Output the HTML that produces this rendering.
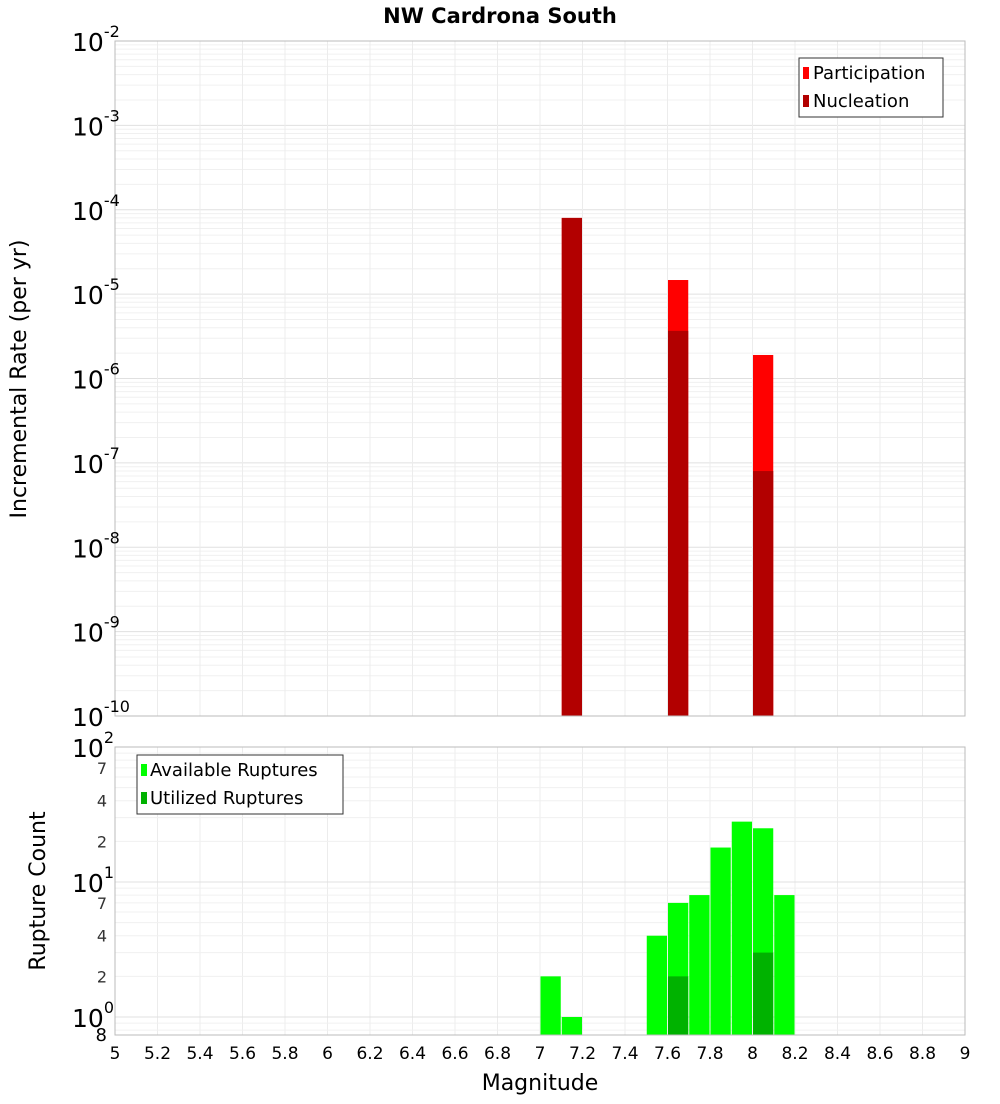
<!DOCTYPE html>
<html><head><meta charset="utf-8"><style>
body{margin:0;background:#fff;font-family:"DejaVu Sans","Liberation Sans",sans-serif}
svg text{font-family:"DejaVu Sans","Liberation Sans",sans-serif}
</style></head><body>
<svg id="chart" width="1000" height="1100" xmlns="http://www.w3.org/2000/svg">
<text x="500" y="23" text-anchor="middle" font-size="21" font-weight="bold">NW Cardrona South</text>
<g id="top"></g><g id="bot"></g>
</svg>
<script>
const topBins=[7.15,7.65,8.05];
const participation=[8e-5,1.47e-5,1.9e-6];
const nucleation=[8e-5,3.67e-6,8e-8];
const botBins=[7.05,7.15,7.55,7.65,7.75,7.85,7.95,8.05,8.15];
const available=[2,1,4,7,8,18,28,25,8];
const utilizedBins=[7.65,8.05];
const utilized=[2,3];
const xTicks=["5","5.2","5.4","5.6","5.8","6","6.2","6.4","6.6","6.8","7","7.2","7.4","7.6","7.8","8","8.2","8.4","8.6","8.8","9"];
const topExps=[-2,-3,-4,-5,-6,-7,-8,-9,-10];
const botMinor=[2,4,7];

const NS="http://www.w3.org/2000/svg";
function el(p,t,a,txt){const e=document.createElementNS(NS,t);for(const k in a)e.setAttribute(k,a[k]);if(txt!==undefined)e.textContent=txt;p.appendChild(e);return e;}
const L=115,R=965;
const X=m=>L+(m-5)/4*(R-L);
const tT=41,tB=716;
const yT=v=>tT+(-2-Math.log10(v))/8*(tB-tT);
const bT=747,bB=1035,dec=135,b0=bT+2*dec;
const yB=v=>b0-Math.log10(v)*dec;
const bw=(X(5.1)-X(5))-1;
const gt=document.getElementById('top'),gb=document.getElementById('bot');
const svg=document.getElementById('chart');

// top grid
for(let e=-10;e<-2;e++){for(let k=1;k<10;k++){const y=yT(k*Math.pow(10,e));const l=el(gt,'line',{x1:L,x2:R,y1:y,y2:y,stroke:k==1?'#e0e0e0':'#f0f0f0','stroke-width':1});}}
xTicks.forEach(t=>{const x=X(+t);const l=el(gt,'line',{x1:x,x2:x,y1:tT,y2:tB,stroke:'#ececec'});
const l2=el(gb,'line',{x1:x,x2:x,y1:bT,y2:bB,stroke:'#ececec'});
const tx=el(svg,'text',{x:x,y:1059,'text-anchor':'middle','font-size':17},t);});
// top bars
topBins.forEach((m,i)=>{const x=X(m)-bw/2;
const a=el(gt,'rect',{x:x,y:yT(participation[i]),width:bw,height:tB-yT(participation[i]),fill:'#ff0000'});
const b=el(gt,'rect',{x:x,y:yT(nucleation[i]),width:bw,height:tB-yT(nucleation[i]),fill:'#b20000'});});
el(gt,'rect',{x:L,y:tT,width:R-L,height:tB-tT,fill:'none',stroke:'#bbb'});
topExps.forEach(e=>{const y=yT(Math.pow(10,e));const g=el(gt,'text',{x:72,y:y+10,'font-size':25});
el(g,'tspan',{},'10');el(g,'tspan',{dy:-14,'font-size':16},String(e));});
// top legend
const lg=el(gt,'g',{});
el(lg,'rect',{x:799,y:58,width:144,height:59,fill:'#fff',stroke:'#333'});
el(lg,'rect',{x:803,y:67,width:6,height:12,fill:'#ff0000'});el(lg,'text',{x:813,y:79,'font-size':18},'Participation');
el(lg,'rect',{x:803,y:95,width:6,height:12,fill:'#b20000'});el(lg,'text',{x:813,y:107,'font-size':18},'Nucleation');
// bottom grid
for(let e=-1;e<2;e++){for(let k=1;k<10;k++){const v=k*Math.pow(10,e);const y=yB(v);if(y>bB||y<bT)continue;const l=el(gb,'line',{x1:L,x2:R,y1:y,y2:y,stroke:k==1?'#e0e0e0':'#f0f0f0'});}}
botBins.forEach((m,i)=>{const r=el(gb,'rect',{x:X(m)-bw/2,y:yB(available[i]),width:bw,height:bB-yB(available[i]),fill:'#00ff00'});});
utilizedBins.forEach((m,i)=>{const r=el(gb,'rect',{x:X(m)-bw/2,y:yB(utilized[i]),width:bw,height:bB-yB(utilized[i]),fill:'#00b200'});});
el(gb,'rect',{x:L,y:bT,width:R-L,height:bB-bT,fill:'none',stroke:'#bbb'});
[2,1,0].forEach(e=>{const y=yB(Math.pow(10,e));const g=el(gb,'text',{x:72,y:y+10,'font-size':25});
el(g,'tspan',{},'10');el(g,'tspan',{dy:-14,'font-size':16},String(e));});
[1,0].forEach(e=>botMinor.forEach(k=>{const y=yB(k*Math.pow(10,e));const t=el(gb,'text',{x:107,y:y+6,'text-anchor':'end','font-size':16,fill:'#333'},String(k));}));
const t8=el(gb,'text',{x:107,y:1041,'text-anchor':'end','font-size':18},'8');
const lb=el(gb,'g',{});
el(lb,'rect',{x:137,y:755,width:206,height:59,fill:'#fff',stroke:'#333'});
el(lb,'rect',{x:141,y:764,width:6,height:12,fill:'#00ff00'});el(lb,'text',{x:150,y:776,'font-size':18},'Available Ruptures');
el(lb,'rect',{x:141,y:792,width:6,height:12,fill:'#00b200'});el(lb,'text',{x:150,y:804,'font-size':18},'Utilized Ruptures');
// axis titles
const a1=el(svg,'text',{x:0,y:0,transform:'translate(26,379) rotate(-90)','text-anchor':'middle','font-size':22},'Incremental Rate (per yr)');
const a2=el(svg,'text',{x:0,y:0,transform:'translate(45,891) rotate(-90)','text-anchor':'middle','font-size':22},'Rupture Count');
const a3=el(svg,'text',{x:540,y:1090,'text-anchor':'middle','font-size':22},'Magnitude');
</script>
</body></html>
